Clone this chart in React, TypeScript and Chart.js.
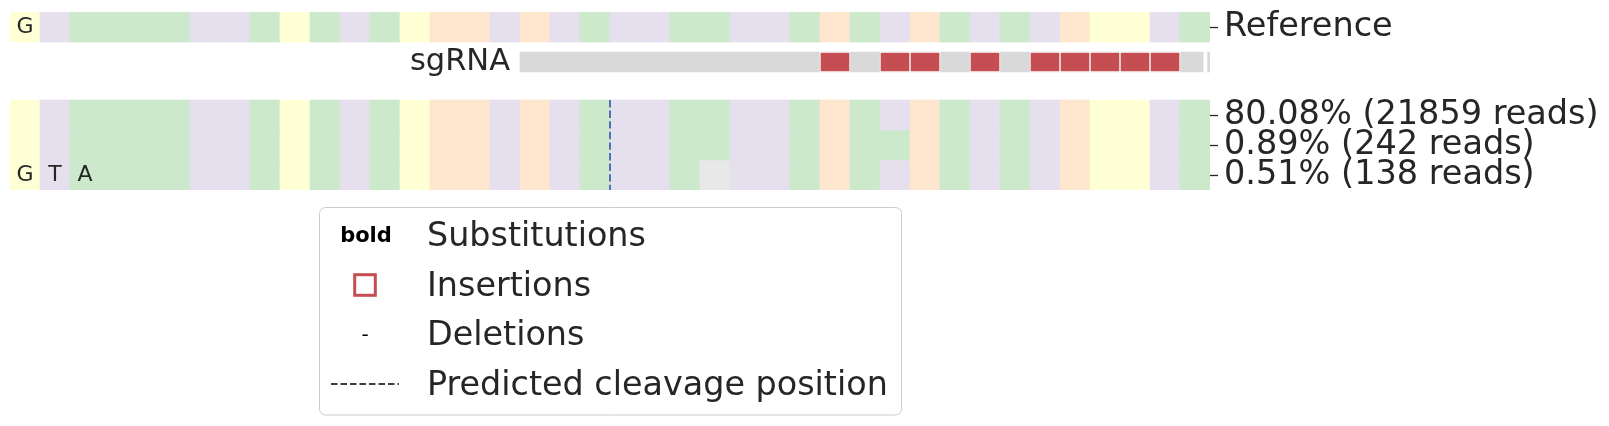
import React, { useEffect, useRef } from 'react';
import { Chart, registerables } from 'chart.js';

Chart.register(...registerables);

// ---------------- data ----------------
const REFERENCE_SEQ = 'GTAAAATTAGATAGCCTCTATTAATTACATCATATCGGTA'.split('');
const ALLELE_SEQS = [
  'GTAAAATTAGATAGCCTCTATTAATTACATCATATCGGTA'.split(''),
  'GTAAAATTAGATAGCCTCTATTAATTACAACATATCGGTA'.split(''),
  'GTAAAATTAGATAGCCTCTATTA-TTACATCATATCGGTA'.split(''),
];
const ALLELE_LABELS = ['80.08% (21859 reads)', '0.89% (242 reads)', '0.51% (138 reads)'];
const REFERENCE_LABEL = 'Reference';
const REF_LETTERS_SHOWN = [0];
const ALLELE_LETTERS_SHOWN = [[], [], [0, 1, 2]];
const SGRNA_LABEL = 'sgRNA';
const SGRNA_SEGMENTS: [number, number][] = [[17, 39.77], [39.92, 40]];
const SGRNA_MISMATCHES = [27, 29, 30, 32, 34, 35, 36, 37, 38];
const CUT_POSITION = 20;
const LEGEND_LABELS = ['Substitutions', 'Insertions', 'Deletions', 'Predicted cleavage position'];

// ---------------- styles / layout ----------------
const NUC_COLORS: Record<string, string> = {
  A: '#CCE9CC',
  T: '#E5DFEE',
  C: '#FEE6CF',
  G: '#FFFFD6',
  N: '#E9E9E9',
  '-': '#E8E8E8',
};
const TEXT_COLOR = '#262626';
const FONT = '"DejaVu Sans", "Liberation Sans", sans-serif';

// rows in y-units (1 unit == 1 px of the plot area)
const REF_ROW = { center: 15, h: 30 };
const SG_ROW = { center: 50, h: 20 };
const ALLELE_ROW_TOP = 88;
const ALLELE_ROW_H = 30;
const alleleCenter = (k: number) => ALLELE_ROW_TOP + ALLELE_ROW_H * k + ALLELE_ROW_H / 2;
const Y_MAX = ALLELE_ROW_TOP + ALLELE_ROW_H * ALLELE_SEQS.length;

function rowDataset(seq: string[], center: number, h: number, order: number) {
  return {
    type: 'bar' as const,
    data: seq.map((_, i) => ({ y: center, x: [i, i + 1] })),
    backgroundColor: seq.map((n) => NUC_COLORS[n] || NUC_COLORS.N),
    borderWidth: 0,
    barThickness: h,
    grouped: false,
    order,
  };
}

const letterPlugin = {
  id: 'letters',
  afterDatasetsDraw(chart: any) {
    const { ctx, scales } = chart;
    const xs = scales.x;
    const ys = scales.y;
    ctx.save();
    ctx.fillStyle = TEXT_COLOR;
    ctx.font = `22px ${FONT}`;
    ctx.textAlign = 'center';
    ctx.textBaseline = 'middle';
    REF_LETTERS_SHOWN.forEach((i) => {
      ctx.fillText(REFERENCE_SEQ[i], xs.getPixelForValue(i + 0.5), ys.getPixelForValue(REF_ROW.center) + 0.5);
    });
    ALLELE_LETTERS_SHOWN.forEach((list, k) => {
      list.forEach((i) => {
        ctx.fillText(ALLELE_SEQS[k][i], xs.getPixelForValue(i + 0.5), ys.getPixelForValue(alleleCenter(k)) + 0.5);
      });
    });
    // sgRNA label
    ctx.font = `30.5px ${FONT}`;
    ctx.textAlign = 'right';
    ctx.fillText(SGRNA_LABEL, xs.getPixelForValue(SGRNA_SEGMENTS[0][0]) - 10, ys.getPixelForValue(SG_ROW.center) + 0.5);
    ctx.restore();
  },
};

const legendPlugin = {
  id: 'customLegend',
  afterDraw(chart: any) {
    const { ctx } = chart;
    ctx.save();
    // box
    ctx.beginPath();
    (ctx as any).roundRect(319.5, 207.5, 582, 207.5, 6);
    ctx.fillStyle = '#ffffff';
    ctx.fill();
    ctx.strokeStyle = '#cccccc';
    ctx.lineWidth = 1;
    ctx.stroke();

    const ys = [235, 285, 334.5, 384];
    const mx = 365;
    // bold marker
    ctx.fillStyle = '#000';
    ctx.font = `bold 21px ${FONT}`;
    ctx.textAlign = 'center';
    ctx.textBaseline = 'middle';
    ctx.fillText('bold', mx + 1, ys[0] + 2);
    // insertion square
    ctx.strokeStyle = '#C44E52';
    ctx.lineWidth = 3;
    ctx.strokeRect(mx - 10.3, ys[1] - 10.3, 20.6, 20.6);
    // deletion marker
    ctx.fillStyle = '#000';
    ctx.font = `20px ${FONT}`;
    ctx.fillText('-', mx, ys[2] + 1);
    // dashed line
    ctx.strokeStyle = '#000';
    ctx.lineWidth = 1.5;
    ctx.setLineDash([6.5, 3]);
    ctx.beginPath();
    ctx.moveTo(331, ys[3]);
    ctx.lineTo(399, ys[3]);
    ctx.stroke();
    ctx.setLineDash([]);
    // labels
    ctx.fillStyle = TEXT_COLOR;
    ctx.font = `33.4px ${FONT}`;
    ctx.textAlign = 'left';
    LEGEND_LABELS.forEach((t, i) => ctx.fillText(t, 427, ys[i] + 2));
    ctx.restore();
  },
};

export default function App() {
  const ref = useRef<HTMLCanvasElement>(null);

  useEffect(() => {
    document.body.style.margin = '0';
    const tickValues = [REF_ROW.center, ...ALLELE_SEQS.map((_, k) => alleleCenter(k))];
    const tickLabels = [REFERENCE_LABEL, ...ALLELE_LABELS];

    const datasets: any[] = [
      rowDataset(REFERENCE_SEQ, REF_ROW.center, REF_ROW.h, 5),
      ...ALLELE_SEQS.map((s, k) => rowDataset(s, alleleCenter(k), ALLELE_ROW_H, 5)),
      {
        type: 'bar',
        data: SGRNA_SEGMENTS.map((seg) => ({ y: SG_ROW.center, x: seg })),
        backgroundColor: '#D9D9D9',
        borderWidth: 0,
        barThickness: SG_ROW.h,
        grouped: false,
        order: 4,
      },
      {
        type: 'bar',
        data: SGRNA_MISMATCHES.map((i) => ({ y: SG_ROW.center, x: [i, i + 1] })),
        backgroundColor: '#C44E52',
        borderColor: '#ffffff',
        borderWidth: 1,
        borderSkipped: false,
        barThickness: SG_ROW.h,
        grouped: false,
        order: 3,
      },
      {
        type: 'line',
        data: [
          { x: CUT_POSITION, y: ALLELE_ROW_TOP },
          { x: CUT_POSITION, y: Y_MAX },
        ],
        borderColor: '#4C72B0',
        borderWidth: 2,
        borderDash: [7.4, 3.2],
        pointRadius: 0,
        fill: false,
        order: 1,
      },
    ];

    const chart = new Chart(ref.current as HTMLCanvasElement, {
      type: 'bar',
      data: { datasets },
      options: {
        indexAxis: 'y',
        animation: false,
        responsive: false,
        devicePixelRatio: 1,
        events: [],
        layout: { padding: { left: 10, top: 12, right: 0, bottom: 426 - 190 } },
        plugins: { legend: { display: false }, tooltip: { enabled: false } },
        scales: {
          x: { type: 'linear', display: false, min: 0, max: REFERENCE_SEQ.length, offset: false },
          y: {
            type: 'linear',
            position: 'right',
            reverse: true,
            min: 0,
            max: Y_MAX,
            offset: false,
            border: { display: false },
            grid: {
              offset: false,
              drawOnChartArea: false,
              drawTicks: true,
              tickLength: 8,
              tickColor: TEXT_COLOR,
              tickWidth: 1.3,
            },
            ticks: {
              autoSkip: false,
              padding: 6,
              color: TEXT_COLOR,
              font: { family: FONT, size: 33.5, lineHeight: 1 },
              callback: (_v: any, i: number) => tickLabels[i],
            },
            afterBuildTicks: (scale: any) => {
              scale.ticks = tickValues.map((v) => ({ value: v }));
            },
            afterFit: (scale: any) => {
              scale.width = 399;
              scale.paddingTop = 0;
              scale.paddingBottom = 0;
            },
          } as any,
        },
      },
      plugins: [letterPlugin, legendPlugin],
    } as any);
    return () => chart.destroy();
  }, []);

  return (
    <div style={{ width: 1609, height: 426, position: 'relative', overflow: 'hidden' }}>
      <canvas ref={ref} width={1609} height={426} style={{ display: 'block', width: 1609, height: 426 }} />
    </div>
  );
}
